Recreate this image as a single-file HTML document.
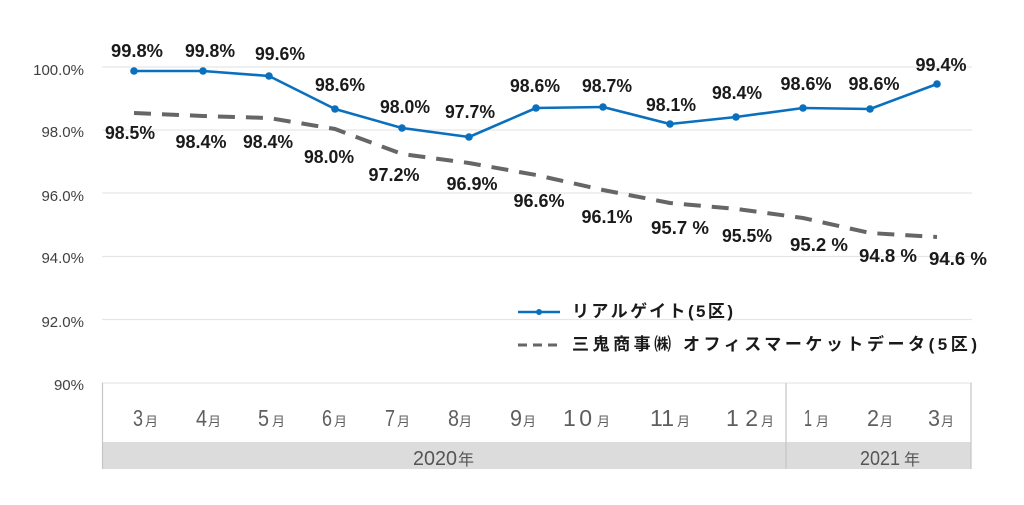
<!DOCTYPE html>
<html><head><meta charset="utf-8"><style>
html,body{margin:0;padding:0;background:#fff;}
svg{display:block;}
text{font-family:"Liberation Sans","Noto Sans CJK JP",sans-serif;}
.yl{font-size:15px;fill:#404040;text-anchor:end;}
.dl{font-size:18px;font-weight:bold;fill:#1a1a1a;text-anchor:middle;}
.md{font-size:23px;fill:#5e5e5e;}
.mk{font-size:13px;fill:#5e5e5e;}
.yr{font-size:20px;fill:#555;}
.yk{font-size:16px;fill:#555;}
.lg{font-size:17px;font-weight:bold;fill:#1a1a1a;}
</style></head><body>
<svg width="1024" height="505" viewBox="0 0 1024 505" xmlns="http://www.w3.org/2000/svg">
<rect width="1024" height="505" fill="#fff"/>
<g stroke="#e6e6e6" stroke-width="1.2">
<line x1="102" y1="67" x2="972" y2="67"/>
<line x1="102" y1="130" x2="972" y2="130"/>
<line x1="102" y1="193" x2="972" y2="193"/>
<line x1="102" y1="256.5" x2="972" y2="256.5"/>
<line x1="102" y1="319.5" x2="972" y2="319.5"/>
<line x1="102" y1="383" x2="972" y2="383"/>
</g>
<text class="yl" x="84" y="75">100.0%</text>
<text class="yl" x="84" y="137">98.0%</text>
<text class="yl" x="84" y="201">96.0%</text>
<text class="yl" x="84" y="263">94.0%</text>
<text class="yl" x="84" y="327">92.0%</text>
<text class="yl" x="84" y="390">90%</text>
<rect x="102" y="442" width="869" height="27" fill="#dcdcdc"/>
<g stroke="#c4c4c4" stroke-width="1.2">
<line x1="102.5" y1="383" x2="102.5" y2="469"/>
<line x1="786" y1="383" x2="786" y2="469"/>
<line x1="971" y1="383" x2="971" y2="469"/>
</g>
<g>
<text class="md" x="133" y="426" textLength="10" lengthAdjust="spacingAndGlyphs">3</text><text class="mk" x="145" y="426">月</text>
<text class="md" x="196" y="426" textLength="11" lengthAdjust="spacingAndGlyphs">4</text><text class="mk" x="208" y="426">月</text>
<text class="md" x="258" y="426" textLength="11" lengthAdjust="spacingAndGlyphs">5</text><text class="mk" x="272" y="426">月</text>
<text class="md" x="322" y="426" textLength="10" lengthAdjust="spacingAndGlyphs">6</text><text class="mk" x="334" y="426">月</text>
<text class="md" x="385" y="426" textLength="10" lengthAdjust="spacingAndGlyphs">7</text><text class="mk" x="397" y="426">月</text>
<text class="md" x="448" y="426" textLength="11" lengthAdjust="spacingAndGlyphs">8</text><text class="mk" x="459" y="426">月</text>
<text class="md" x="510" y="426" textLength="12" lengthAdjust="spacingAndGlyphs">9</text><text class="mk" x="523" y="426">月</text>
<text class="md" x="563" y="426" textLength="29" lengthAdjust="spacing">10</text><text class="mk" x="597" y="426">月</text>
<text class="md" x="650" y="426" textLength="24" lengthAdjust="spacing">11</text><text class="mk" x="677" y="426">月</text>
<text class="md" x="726" y="426" textLength="32" lengthAdjust="spacing">12</text><text class="mk" x="761" y="426">月</text>
<text class="md" x="804" y="426" textLength="8" lengthAdjust="spacingAndGlyphs">1</text><text class="mk" x="816" y="426">月</text>
<text class="md" x="867" y="426" textLength="12" lengthAdjust="spacingAndGlyphs">2</text><text class="mk" x="880" y="426">月</text>
<text class="md" x="928" y="426" textLength="12" lengthAdjust="spacingAndGlyphs">3</text><text class="mk" x="941" y="426">月</text>
</g>
<text class="yr" x="413" y="465" textLength="44" lengthAdjust="spacingAndGlyphs">2020</text><text class="yk" x="458" y="465">年</text>
<text class="yr" x="860" y="465" textLength="40" lengthAdjust="spacingAndGlyphs">2021</text><text class="yk" x="904" y="465">年</text>
<polyline fill="none" stroke="#666666" stroke-width="4" stroke-dasharray="17 11"
 points="134,113 203,116 269,118 335,129 402,154 469,163 536,175 603,190 670,203 737,209 803,218 870,233 937,237"/>
<polyline fill="none" stroke="#0a70be" stroke-width="2.6" stroke-linejoin="round"
 points="134,71 203,71 269,76 335,109 402,128 469,137 536,108 603,107 670,124 736,117 803,108 870,109 937,84"/>
<g fill="#0a70be">
<circle cx="134" cy="71" r="3.8"/><circle cx="203" cy="71" r="3.8"/><circle cx="269" cy="76" r="3.8"/>
<circle cx="335" cy="109" r="3.8"/><circle cx="402" cy="128" r="3.8"/><circle cx="469" cy="137" r="3.8"/>
<circle cx="536" cy="108" r="3.8"/><circle cx="603" cy="107" r="3.8"/><circle cx="670" cy="124" r="3.8"/>
<circle cx="736" cy="117" r="3.8"/><circle cx="803" cy="108" r="3.8"/><circle cx="870" cy="109" r="3.8"/>
<circle cx="937" cy="84" r="3.8"/>
</g>
<g>
<text class="dl" x="137" y="57" textLength="52" lengthAdjust="spacingAndGlyphs">99.8%</text>
<text class="dl" x="210" y="57" textLength="50" lengthAdjust="spacingAndGlyphs">99.8%</text>
<text class="dl" x="280" y="60" textLength="50" lengthAdjust="spacingAndGlyphs">99.6%</text>
<text class="dl" x="340" y="91" textLength="50" lengthAdjust="spacingAndGlyphs">98.6%</text>
<text class="dl" x="405" y="113" textLength="50" lengthAdjust="spacingAndGlyphs">98.0%</text>
<text class="dl" x="470" y="118" textLength="50" lengthAdjust="spacingAndGlyphs">97.7%</text>
<text class="dl" x="535" y="92" textLength="50" lengthAdjust="spacingAndGlyphs">98.6%</text>
<text class="dl" x="607" y="92" textLength="50" lengthAdjust="spacingAndGlyphs">98.7%</text>
<text class="dl" x="671" y="111" textLength="50" lengthAdjust="spacingAndGlyphs">98.1%</text>
<text class="dl" x="737" y="99" textLength="50" lengthAdjust="spacingAndGlyphs">98.4%</text>
<text class="dl" x="806" y="90" textLength="51" lengthAdjust="spacingAndGlyphs">98.6%</text>
<text class="dl" x="874" y="90" textLength="51" lengthAdjust="spacingAndGlyphs">98.6%</text>
<text class="dl" x="941" y="71" textLength="51" lengthAdjust="spacingAndGlyphs">99.4%</text>
</g>
<g>
<text class="dl" x="130" y="139" textLength="50" lengthAdjust="spacingAndGlyphs">98.5%</text>
<text class="dl" x="201" y="148" textLength="51" lengthAdjust="spacingAndGlyphs">98.4%</text>
<text class="dl" x="268" y="148" textLength="50" lengthAdjust="spacingAndGlyphs">98.4%</text>
<text class="dl" x="329" y="163" textLength="50" lengthAdjust="spacingAndGlyphs">98.0%</text>
<text class="dl" x="394" y="181" textLength="51" lengthAdjust="spacingAndGlyphs">97.2%</text>
<text class="dl" x="472" y="190" textLength="51" lengthAdjust="spacingAndGlyphs">96.9%</text>
<text class="dl" x="539" y="207" textLength="51" lengthAdjust="spacingAndGlyphs">96.6%</text>
<text class="dl" x="607" y="223" textLength="51" lengthAdjust="spacingAndGlyphs">96.1%</text>
<text class="dl" x="680" y="234" textLength="58" lengthAdjust="spacingAndGlyphs">95.7 %</text>
<text class="dl" x="747" y="242" textLength="50" lengthAdjust="spacingAndGlyphs">95.5%</text>
<text class="dl" x="819" y="251" textLength="58" lengthAdjust="spacingAndGlyphs">95.2 %</text>
<text class="dl" x="888" y="262" textLength="58" lengthAdjust="spacingAndGlyphs">94.8 %</text>
<text class="dl" x="958" y="265" textLength="58" lengthAdjust="spacingAndGlyphs">94.6 %</text>
</g>
<line x1="518" y1="312" x2="560" y2="312" stroke="#0a70be" stroke-width="2.6"/>
<circle cx="539" cy="312" r="3" fill="#0a70be"/>
<text class="lg" x="572" y="317" textLength="161" lengthAdjust="spacing">リアルゲイト(5区)</text>
<g stroke="#666" stroke-width="3">
<line x1="518" y1="345" x2="527" y2="345"/>
<line x1="533" y1="345" x2="542" y2="345"/>
<line x1="548" y1="345" x2="557" y2="345"/>
</g>
<text class="lg" x="572" y="350" textLength="405" lengthAdjust="spacing">三鬼商事㈱ オフィスマーケットデータ(5区)</text>
</svg>
</body></html>
